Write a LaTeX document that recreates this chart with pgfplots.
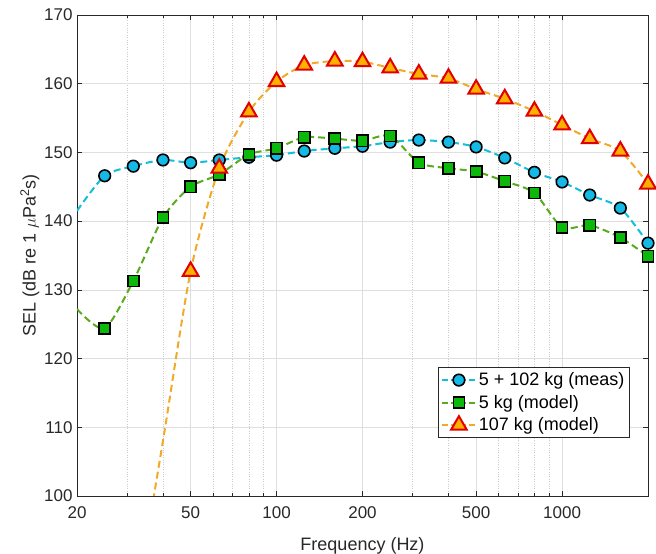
\documentclass[border=0pt]{standalone}
\usepackage{fontspec}
\setmainfont{Liberation Sans}
\usepackage{pgfplots}
\pgfplotsset{compat=1.18}
\definecolor{cline}{RGB}{20,190,215}
\definecolor{cfill}{RGB}{20,185,230}
\definecolor{gline}{RGB}{90,170,30}
\definecolor{gfill}{RGB}{10,185,10}
\definecolor{oline}{RGB}{240,170,40}
\definecolor{ofill}{RGB}{255,175,0}
\definecolor{redge}{RGB}{225,0,0}
\definecolor{axc}{RGB}{40,40,40}
\begin{document}
\begin{tikzpicture}
\begin{axis}[
  scale only axis,
  width=571pt, height=481pt,
  xmode=log,
  xmin=20, xmax=2000, ymin=100, ymax=170,
  xtick={20,50,100,200,500,1000},
  xticklabels={20,50,100,200,500,1000},
  minor xtick={30,40,60,70,80,90,300,400,600,700,800,900},
  ytick={100,110,...,170},
  log ticks with fixed point,
  /pgf/number format/assume math mode=true,
  tick label style={font=\fontsize{17}{19}\selectfont, text=axc},
  xticklabel style={yshift=-7pt},
  yticklabel style={xshift=-1pt},
  label style={font=\fontsize{18}{20}\selectfont, text=axc},
  xlabel={Frequency (Hz)},
  ylabel={SEL (dB re 1 $\mu$Pa\textsuperscript{2}s)},
  xlabel style={yshift=-12pt},
  ylabel style={yshift=-2pt},
  axis line style={axc, line width=0.8pt},
  tick style={axc, line width=0.6pt},
  major tick length=5pt, minor tick length=3pt,
  tick align=inside,
  xmajorgrids, xminorgrids, ymajorgrids,
  major grid style={gray!25, line width=0.6pt},
  minor grid style={gray!40, dotted, line width=0.6pt},
  legend style={at={(0.968,0.121)}, anchor=south east, draw=axc, line width=0.7pt,
    font=\fontsize{18}{20}\selectfont, row sep=4pt, inner sep=3pt,
    legend cell align=left},
  legend image code/.code={\draw[#1, line width=1.8pt, dash pattern=on 6pt off 3pt] (0pt,0pt) -- (34pt,0pt);
    \draw[#1, solid, mark phase=1] plot coordinates {(17pt,0pt)};},
]
\addplot[cline, line width=2pt, dash pattern=on 7pt off 4pt, smooth, tension=0.45,
  mark=*, mark phase=2, mark repeat=1, mark size=5.8pt,
  mark options={solid, draw=black, fill=cfill, line width=1.6pt}] coordinates {
(20,141.5) (25,146.6) (31.5,148.0) (40,148.9) (50,148.5) (63,148.9) (80,149.3)
(100,149.6) (125,150.2) (160,150.6) (200,150.9) (250,151.5) (315,151.8)
(400,151.5) (500,150.8) (630,149.2) (800,147.1) (1000,145.7) (1250,143.8)
(1600,141.9) (2000,136.8)};
\addlegendentry{5 + 102 kg (meas)}
\addplot[gline, line width=2pt, dash pattern=on 7pt off 4pt, smooth, tension=0.45,
  mark=square*, mark phase=2, mark repeat=1, mark size=5.6pt,
  mark options={solid, draw=black, fill=gfill, line width=1.6pt}] coordinates {
(20,127.2) (25,124.4) (31.5,131.3) (40,140.5) (50,145.0) (63,146.8) (80,149.7)
(100,150.6) (125,152.2) (160,152.0) (200,151.7) (250,152.4) (315,148.5)
(400,147.7) (500,147.2) (630,145.8) (800,144.1) (1000,139.1) (1250,139.4)
(1600,137.6) (2000,134.9)};
\addlegendentry{5 kg (model)}
\addplot[oline, line width=2pt, dash pattern=on 7pt off 4pt, smooth, tension=0.45,
  mark=triangle*, mark phase=2, mark repeat=1, mark size=9pt,
  mark options={solid, draw=redge, fill=ofill, line width=2pt}] coordinates {
(31.5,82) (40,108.0) (50,132.7) (63,147.7) (80,155.9) (100,160.3) (125,162.7)
(160,163.3) (200,163.2) (250,162.3) (315,161.4) (400,160.8) (500,159.2)
(630,157.8) (800,156.0) (1000,154.0) (1250,152.0) (1600,150.2) (2000,145.4)};
\addlegendentry{107 kg (model)}
\end{axis}
\pgfresetboundingbox
\path ([shift={(-77pt,-58pt)}]current axis.south west) rectangle ([shift={(8pt,15pt)}]current axis.north east);
\end{tikzpicture}
\end{document}
